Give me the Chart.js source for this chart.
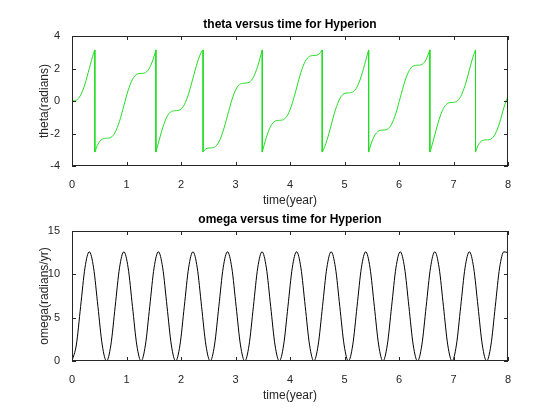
<!DOCTYPE html>
<html>
<head>
<meta charset="utf-8">
<script src="https://cdn.jsdelivr.net/npm/chart.js@4"></script>
<style>
  body { margin: 0; background: #fff; }
  .box { position: absolute; left: 0; width: 560px; }
</style>
</head>
<body>
<div class="box" style="top:0;height:210px"><canvas id="thetaChart"></canvas></div>
<div class="box" style="top:195px;height:225px"><canvas id="omegaChart"></canvas></div>
<script>
// sample step: one eighth of the spin period (~0.634 yr)
const dt = 0.07925;

// theta(radians), null marks a wrap from +pi to -pi
const thetaTimes = [
  0, 0.079, 0.159, 0.238, 0.317, 0.396, 0.419, null, 0.419, 0.476, 0.555,
  0.634, 0.713, 0.792, 0.872, 0.951, 1.030, 1.110, 1.189, 1.268, 1.347, 1.426, 1.506, 1.539, null,
  1.539, 1.585, 1.664, 1.744, 1.823, 1.902, 1.981, 2.060, 2.140, 2.219, 2.298, 2.377, 2.405, null,
  2.405, 2.457, 2.536, 2.615, 2.694, 2.774, 2.853, 2.932, 3.011, 3.091, 3.170, 3.249, 3.328, 3.408, 3.487, 3.491, null,
  3.491, 3.566, 3.645, 3.725, 3.804, 3.883, 3.962, 4.042, 4.121, 4.200, 4.279, 4.359, 4.438, 4.517, 4.591, null,
  4.591, 4.596, 4.676, 4.755, 4.834, 4.914, 4.993, 5.072, 5.151, 5.230, 5.310, 5.389, 5.443, null,
  5.443, 5.468, 5.547, 5.627, 5.706, 5.785, 5.864, 5.944, 6.023, 6.102, 6.181, 6.261, 6.340, 6.419, 6.498, 6.566, null,
  6.566, 6.578, 6.657, 6.736, 6.815, 6.895, 6.974, 7.053, 7.132, 7.212, 7.291, 7.370, 7.404, null,
  7.404, 7.449, 7.529, 7.608, 7.687, 7.766, 7.846, 7.925, 8.0
];
const thetaValues = [
  0, 0.05, 0.363, 1.047, 1.995, 2.943, 3.1416, null, -3.1416, -2.656, -2.343,
  -2.293, -2.243, -1.930, -1.246, -0.298, 0.650, 1.334, 1.647, 1.697, 1.747, 2.060, 2.744, 3.1416, null,
  -3.1416, -2.591, -1.643, -0.959, -0.646, -0.596, -0.546, -0.233, 0.451, 1.399, 2.347, 3.031, 3.1416, null,
  -3.1416, -2.939, -2.889, -2.839, -2.526, -1.842, -0.894, 0.054, 0.738, 1.051, 1.100, 1.150, 1.463, 2.147, 3.095, 3.1416, null,
  -3.1416, -2.240, -1.556, -1.243, -1.190, -1.140, -0.827, -0.143, 0.805, 1.753, 2.437, 2.750, 2.800, 2.850, 3.1416, null,
  -3.1416, -3.120, -2.436, -1.488, -0.540, 0.144, 0.457, 0.500, 0.550, 0.863, 1.547, 2.495, 3.1416, null,
  -3.1416, -2.840, -2.156, -1.843, -1.790, -1.740, -1.427, -0.743, 0.205, 1.153, 1.837, 2.150, 2.200, 2.250, 2.563, 3.1416, null,
  -3.1416, -3.036, -2.088, -1.140, -0.456, -0.143, -0.090, -0.040, 0.273, 0.957, 1.905, 2.853, 3.1416, null,
  -3.1416, -2.746, -2.433, -2.390, -2.340, -2.027, -1.343, -0.395, 0.30
];

// omega(radians/yr), one value every dt
const omegaValues = [
  0, 1.85, 6.3, 10.75, 12.6, 10.75, 6.3, 1.85,
  0, 1.85, 6.3, 10.75, 12.6, 10.75, 6.3, 1.85,
  0, 1.85, 6.3, 10.75, 12.6, 10.75, 6.3, 1.85,
  0, 1.85, 6.3, 10.75, 12.6, 10.75, 6.3, 1.85,
  0, 1.85, 6.3, 10.75, 12.6, 10.75, 6.3, 1.85,
  0, 1.85, 6.3, 10.75, 12.6, 10.75, 6.3, 1.85,
  0, 1.85, 6.3, 10.75, 12.6, 10.75, 6.3, 1.85,
  0, 1.85, 6.3, 10.75, 12.6, 10.75, 6.3, 1.85,
  0, 1.85, 6.3, 10.75, 12.6, 10.75, 6.3, 1.85,
  0, 1.85, 6.3, 10.75, 12.6, 10.75, 6.3, 1.85,
  0, 1.85, 6.3, 10.75, 12.6, 10.75, 6.3, 1.85,
  0, 1.85, 6.3, 10.75, 12.6, 10.75, 6.3, 1.85,
  0, 1.85, 6.3, 10.75, 12.6, 12.5
];

const xTicks = [0, 1, 2, 3, 4, 5, 6, 7, 8];
const thetaTicks = [-4, -2, 0, 2, 4];
const omegaTicks = [0, 5, 10, 15];

const FONT = 'Arial, "Liberation Sans", sans-serif';
const INK = '#262626';
const GREEN = '#22dd22';

// split theta at nulls into segments, plus vertical wrap lines
function thetaDatasets() {
  const sets = [];
  let cur = [];
  thetaTimes.forEach((t, i) => {
    if (t === null) { sets.push(cur); cur = []; return; }
    cur.push({ x: t, y: thetaValues[i] });
  });
  sets.push(cur);
  const out = sets.map(pts => ({
    data: pts, borderColor: GREEN, borderWidth: 1, pointRadius: 0,
    cubicInterpolationMode: 'monotone'
  }));
  for (let i = 0; i < sets.length - 1; i++) {
    const last = sets[i][sets[i].length - 1];
    const first = sets[i + 1][0];
    out.push({ data: [last, first], borderColor: GREEN, borderWidth: 1, pointRadius: 0, tension: 0 });
  }
  return out;
}

// MATLAB style box, inward ticks and texts
function matlabPlugin(title, xlabel, ylabel) {
  return {
    id: 'matlab',
    afterDraw(chart) {
      const c = chart.ctx, a = chart.chartArea;
      const xs = chart.scales.x, ys = chart.scales.y;
      c.save();
      c.strokeStyle = INK; c.lineWidth = 1;
      c.strokeRect(a.left + 0.5, a.top + 0.5, a.right - a.left - 1, a.bottom - a.top - 1);
      c.beginPath();
      xs.ticks.forEach(t => {
        const px = Math.round(xs.getPixelForValue(t.value)) + 0.5;
        c.moveTo(px, a.bottom); c.lineTo(px, a.bottom - 4);
        c.moveTo(px, a.top); c.lineTo(px, a.top + 4);
      });
      ys.ticks.forEach(t => {
        const py = Math.round(ys.getPixelForValue(t.value)) + 0.5;
        c.moveTo(a.left, py); c.lineTo(a.left + 4, py);
        c.moveTo(a.right, py); c.lineTo(a.right - 4, py);
      });
      c.stroke();
      c.fillStyle = '#000';
      c.textAlign = 'center';
      c.font = 'bold 12px ' + FONT;
      c.fillText(title, (a.left + a.right) / 2, a.top - 8);
      c.fillStyle = INK;
      c.font = '12px ' + FONT;
      c.fillText(xlabel, (a.left + a.right) / 2, a.bottom + 38);
      c.translate(a.left - 24, (a.top + a.bottom) / 2);
      c.rotate(-Math.PI / 2);
      c.fillText(ylabel, 0, 0);
      c.restore();
    }
  };
}

function axes(yMin, yMax, yTicks, xHeight) {
  const tickFont = { family: FONT, size: 11 };
  return {
    x: {
      type: 'linear', min: 0, max: 8,
      afterBuildTicks: s => { s.ticks = xTicks.map(v => ({ value: v })); },
      afterFit: s => { s.height = xHeight; },
      grid: { display: false }, border: { display: false },
      ticks: { color: INK, font: tickFont, padding: 4, maxRotation: 0 }
    },
    y: {
      type: 'linear', min: yMin, max: yMax,
      afterBuildTicks: s => { s.ticks = yTicks.map(v => ({ value: v })); },
      afterFit: s => { s.width = 72; },
      grid: { display: false }, border: { display: false },
      ticks: { color: INK, font: tickFont, padding: 4 }
    }
  };
}

const common = {
  responsive: true, maintainAspectRatio: false, animation: false,
  plugins: { legend: { display: false }, tooltip: { enabled: false } }
};

new Chart(document.getElementById('thetaChart'), {
  type: 'line',
  data: { datasets: thetaDatasets() },
  options: Object.assign({}, common, {
    layout: { padding: { top: 36, right: 52, left: 0, bottom: 0 } },
    scales: axes(-4, 4, thetaTicks, 44)
  }),
  plugins: [matlabPlugin('theta versus time for Hyperion', 'time(year)', 'theta(radians)')]
});

new Chart(document.getElementById('omegaChart'), {
  type: 'line',
  data: {
    datasets: [{
      data: omegaValues.map((v, i) => ({ x: Math.min(i * dt, 8), y: v })),
      borderColor: '#000', borderWidth: 1, pointRadius: 0,
      cubicInterpolationMode: 'monotone'
    }]
  },
  options: Object.assign({}, common, {
    layout: { padding: { top: 36, right: 52, left: 0, bottom: 0 } },
    scales: axes(0, 15, omegaTicks, 59)
  }),
  plugins: [matlabPlugin('omega versus time for Hyperion', 'time(year)', 'omega(radians/yr)')]
});
</script>
</body>
</html>
